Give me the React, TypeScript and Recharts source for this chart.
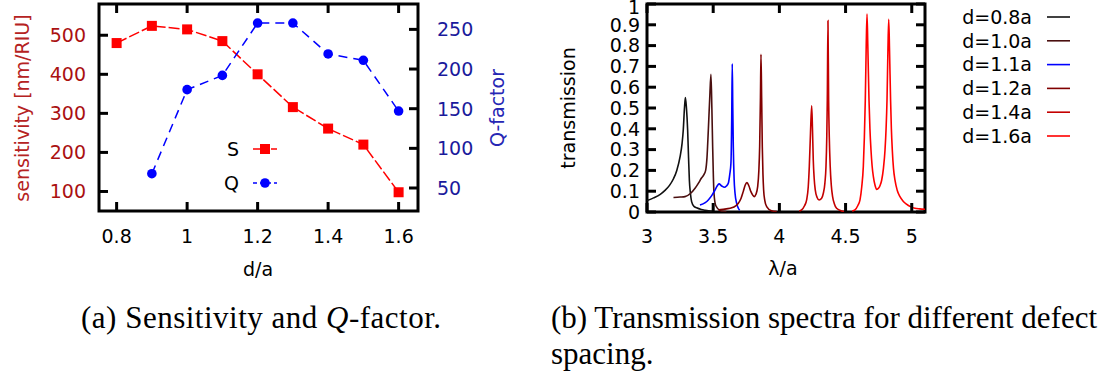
import React from "react";
import { LineChart, Line, XAxis, YAxis, ReferenceArea, Legend, Label } from "recharts";

// ---- (a) sensitivity and Q-factor versus defect spacing ----
const dRatio = [0.8, 0.9, 1.0, 1.1, 1.2, 1.3, 1.4, 1.5, 1.6];
const sensitivity = [480, 524, 515, 485, 400, 316, 261, 220, 98];
const qFactor: (number | null)[] = [null, 68, 174, 192, 258, 258, 219, 211, 147];
const dTicks = [0.8, 1.0, 1.2, 1.4, 1.6];
const sTicks = [100, 200, 300, 400, 500];
const qTicks = [50, 100, 150, 200, 250];
const leftSeriesOrder = ["S", "Q"];

// ---- (b) transmission spectra, [lambda/a, T] ----
const spec08: [number, number][] = [
  [3.0, 0.055], [3.05, 0.068], [3.1, 0.085], [3.136, 0.104], [3.17, 0.128], [3.2, 0.16],
  [3.225, 0.2], [3.25, 0.266], [3.265, 0.33], [3.274, 0.394], [3.283, 0.5], [3.29, 0.55],
  [3.298, 0.5], [3.307, 0.394], [3.314, 0.26], [3.32, 0.154], [3.328, 0.09], [3.337, 0.05],
  [3.355, 0.027], [3.375, 0.02], [3.41, 0.012], [3.44, 0.008], [3.5, 0.003],
];
const spec10: [number, number][] = [
  [3.2, 0.07], [3.25, 0.072], [3.287, 0.074], [3.33, 0.09], [3.363, 0.114], [3.39, 0.14],
  [3.41, 0.162], [3.43, 0.18], [3.443, 0.2], [3.453, 0.26], [3.463, 0.39], [3.474, 0.55],
  [3.483, 0.662], [3.49, 0.5], [3.496, 0.314], [3.501, 0.18], [3.506, 0.09], [3.52, 0.03],
  [3.56, 0.005], [3.6, 0.002],
];
const spec11: [number, number][] = [
  [3.4, 0.034], [3.44, 0.045], [3.463, 0.058], [3.49, 0.08], [3.514, 0.106], [3.53, 0.125],
  [3.544, 0.135], [3.565, 0.125], [3.584, 0.119], [3.6, 0.125], [3.614, 0.138], [3.625, 0.18],
  [3.634, 0.234], [3.64, 0.45], [3.644, 0.712], [3.648, 0.5], [3.652, 0.314], [3.658, 0.16],
  [3.665, 0.09], [3.678, 0.04], [3.69, 0.018], [3.7, 0.008],
];
const spec12: [number, number][] = [
  [3.54, 0.01], [3.6, 0.015], [3.64, 0.02], [3.67, 0.03], [3.69, 0.042], [3.71, 0.065],
  [3.727, 0.098], [3.742, 0.13], [3.755, 0.141], [3.77, 0.125], [3.785, 0.098], [3.8, 0.08],
  [3.81, 0.074], [3.823, 0.085], [3.836, 0.122], [3.845, 0.2], [3.851, 0.314], [3.857, 0.55],
  [3.861, 0.758], [3.866, 0.55], [3.871, 0.314], [3.876, 0.18], [3.881, 0.106], [3.89, 0.055],
  [3.904, 0.026], [3.94, 0.006], [3.98, 0.002],
];
const spec14: [number, number][] = [
  [4.15, 0.005], [4.168, 0.01], [4.19, 0.03], [4.206, 0.058], [4.218, 0.12], [4.226, 0.218],
  [4.235, 0.38], [4.244, 0.51], [4.25, 0.4], [4.256, 0.25], [4.263, 0.16], [4.271, 0.106],
  [4.285, 0.07], [4.3, 0.058], [4.318, 0.065], [4.332, 0.09], [4.344, 0.14], [4.352, 0.218],
  [4.358, 0.36], [4.362, 0.538], [4.367, 0.92], [4.372, 0.538], [4.377, 0.36], [4.384, 0.218],
  [4.392, 0.13], [4.402, 0.074], [4.415, 0.04], [4.432, 0.018], [4.47, 0.005], [4.5, 0.002],
];
const spec16: [number, number][] = [
  [4.55, 0.005], [4.571, 0.01], [4.592, 0.03], [4.609, 0.058], [4.622, 0.12], [4.634, 0.218],
  [4.642, 0.36], [4.649, 0.538], [4.656, 0.8], [4.662, 0.952], [4.668, 0.8], [4.677, 0.538],
  [4.684, 0.4], [4.692, 0.298], [4.7, 0.225], [4.71, 0.17], [4.722, 0.13], [4.735, 0.109],
  [4.75, 0.115], [4.762, 0.13], [4.773, 0.154], [4.786, 0.21], [4.798, 0.298], [4.806, 0.4],
  [4.813, 0.538], [4.82, 0.78], [4.826, 0.926], [4.832, 0.78], [4.84, 0.538], [4.846, 0.4],
  [4.853, 0.298], [4.862, 0.21], [4.873, 0.154], [4.89, 0.105], [4.911, 0.074], [4.935, 0.052],
  [4.96, 0.038], [4.99, 0.026], [5.024, 0.018], [5.06, 0.015], [5.1, 0.013],
];
const spacingLabels = ["d=0.8a", "d=1.0a", "d=1.1a", "d=1.2a", "d=1.4a", "d=1.6a"];
const spacingColors = ["#111111", "#4a0f0f", "#0000ff", "#800000", "#c40000", "#ff0000"];
const spectra = [spec08, spec10, spec11, spec12, spec14, spec16];
const lambdaTicks = [3, 3.5, 4, 4.5, 5];
const tTicks = [0, 0.1, 0.2, 0.3, 0.4, 0.5, 0.6, 0.7, 0.8, 0.9, 1];

const SANS = "DejaVu Sans";
const FS = 19;
const FRAME = "#000";

const leftRows = dRatio.map((d, i) => ({ d, S: sensitivity[i], Q: qFactor[i] }));

// plot frames (pixel rectangles of the two panels, in each chart's own coordinates)
const LF = { left: 99, right: 418, top: 4, bottom: 211 };
const RF = { left: 107, right: 385, top: 4, bottom: 212 };
const TICK_LEN = 9;

const fmt = (v: number) => String(v);

function makeXTick(frame: typeof LF, textY: number) {
  return (p: any) => {
    const x = p.x;
    return (
      <g>
        <line x1={x} x2={x} y1={frame.bottom} y2={frame.bottom - TICK_LEN} stroke={FRAME} strokeWidth={3} />
        <line x1={x} x2={x} y1={frame.top} y2={frame.top + TICK_LEN} stroke={FRAME} strokeWidth={3} />
        <text x={x} y={textY} dy="0.36em" textAnchor="middle" fontFamily={SANS} fontSize={FS} fill="#000">
          {fmt(p.payload.value)}
        </text>
      </g>
    );
  };
}

function makeYTick(frame: typeof LF, side: "left" | "right", textX: number, color: string, both: boolean) {
  return (p: any) => {
    const y = p.y;
    const lines = [];
    if (side === "left" || both)
      lines.push(<line key="l" x1={frame.left} x2={frame.left + TICK_LEN} y1={y} y2={y} stroke={FRAME} strokeWidth={3} />);
    if (side === "right" || both)
      lines.push(<line key="r" x1={frame.right} x2={frame.right - TICK_LEN} y1={y} y2={y} stroke={FRAME} strokeWidth={3} />);
    // keep the topmost label's glyphs inside the drawing area
    const ty = Math.max(y, 7);
    return (
      <g>
        {lines}
        <text x={textX} y={ty} dy="0.36em" textAnchor={side === "left" ? "end" : "start"} fontFamily={SANS} fontSize={FS} fill={color}>
          {fmt(p.payload.value)}
        </text>
      </g>
    );
  };
}

const SquareDot = (p: any) => {
  if (p.cy == null || p.value == null) return <g key={p.index} />;
  return <rect key={p.index} x={p.cx - 5} y={p.cy - 5} width={10} height={10} fill="#ff0000" />;
};
const RoundDot = (p: any) => {
  if (p.cy == null || p.value == null) return <g key={p.index} />;
  return <circle key={p.index} cx={p.cx} cy={p.cy} r={4.8} fill="#0000ff" />;
};

const LeftLegend = (props: any) => {
  const items = [...(props.payload || [])].sort(
    (a: any, b: any) => leftSeriesOrder.indexOf(a.value) - leftSeriesOrder.indexOf(b.value)
  );
  return (
    <svg width={100} height={70} style={{ overflow: "visible" }}>
      {items.map((it: any, i: number) => {
        const y = 14 + i * 34;
        const isS = it.value === "S";
        return (
          <g key={it.value}>
            <text x={39} y={y} dy="0.36em" textAnchor="end" fontFamily={SANS} fontSize={FS} fill="#000">{it.value}</text>
            <line x1={53} x2={77} y1={y} y2={y} stroke={it.color} strokeWidth={1.5} strokeDasharray={isS ? "7 2" : "4 3"} />
            {isS ? <rect x={60} y={y - 5} width={10} height={10} fill={it.color} /> : <circle cx={65} cy={y} r={4.8} fill={it.color} />}
          </g>
        );
      })}
    </svg>
  );
};

const RightLegend = (props: any) => {
  const items = props.payload || [];
  return (
    <svg width={200} height={150} style={{ overflow: "visible" }}>
      {items.map((it: any, i: number) => {
        const y = 12 + i * 23.8;
        return (
          <g key={it.value}>
            <text x={100} y={y} dy="0.36em" textAnchor="end" fontFamily={SANS} fontSize={FS} fill="#000">{it.value}</text>
            <line x1={115} x2={138} y1={y} y2={y} stroke={it.color} strokeWidth={1.6} />
          </g>
        );
      })}
    </svg>
  );
};

export default function App() {
  return (
    <div style={{ position: "absolute", left: 0, top: 0, width: 1107, height: 374, background: "#fff", overflow: "hidden" }}>
      <div style={{ position: "absolute", left: 0, top: 0 }}>
        <LineChart width={520} height={290} data={leftRows} margin={{ top: 4, right: 0, bottom: 9, left: 0 }}>
          <XAxis dataKey="d" type="number" domain={[0.75, 1.655]} ticks={dTicks} interval={0} allowDataOverflow
            height={70} axisLine={false} tickLine={false} tick={makeXTick(LF, 236)}>
            <Label content={() => (
              <text x={258} y={269} dy="0.36em" textAnchor="middle" fontFamily={SANS} fontSize={FS} fill="#000">d/a</text>
            )} />
          </XAxis>
          <YAxis yAxisId="S" domain={[50, 580]} ticks={sTicks} interval={0} allowDataOverflow width={99}
            axisLine={false} tickLine={false} tick={makeYTick(LF, "left", 86, "#aa1111", false)}>
            <Label content={() => (
              <text x={22} y={108} dy="0.36em" transform="rotate(-90 22 108)" textAnchor="middle" fontFamily={SANS} fontSize={FS} fill="#b52222">
                sensitivity [nm/RIU]
              </text>
            )} />
          </YAxis>
          <YAxis yAxisId="Q" orientation="right" domain={[21, 282]} ticks={qTicks} interval={0} allowDataOverflow width={102}
            axisLine={false} tickLine={false} tick={makeYTick(LF, "right", 437, "#1a1a9c", false)}>
            <Label content={() => (
              <text x={497} y={108} dy="0.36em" transform="rotate(-90 497 108)" textAnchor="middle" fontFamily={SANS} fontSize={FS} fill="#2626b4">
                Q-factor
              </text>
            )} />
          </YAxis>
          <ReferenceArea yAxisId="S" x1={0.75} x2={1.655} y1={50} y2={580} fill="none" stroke={FRAME} strokeWidth={3} ifOverflow="visible" />
          <Line yAxisId="S" dataKey="S" name="S" stroke="#ff0000" strokeWidth={1.5} strokeDasharray="11 3"
            dot={SquareDot} activeDot={false} isAnimationActive={false} />
          <Line yAxisId="Q" dataKey="Q" name="Q" stroke="#0000ff" strokeWidth={1.5} strokeDasharray="9 6"
            dot={RoundDot} activeDot={false} isAnimationActive={false} />
          <Legend layout="horizontal" verticalAlign="middle" align="center" content={LeftLegend}
            wrapperStyle={{ left: 200, top: 135, width: 100, height: 70 }} />
        </LineChart>
      </div>

      <div style={{ position: "absolute", left: 540, top: 0 }}>
        <LineChart width={567} height={290} margin={{ top: 4, right: 182, bottom: 8, left: 0 }}>
          <XAxis dataKey="x" type="number" domain={[3, 5.1]} ticks={lambdaTicks} interval={0} allowDataOverflow
            height={70} axisLine={false} tickLine={false} tick={makeXTick(RF, 236)}>
            <Label content={() => (
              <text x={243} y={268} dy="0.36em" textAnchor="middle" fontFamily={SANS} fontSize={FS} fill="#000">λ/a</text>
            )} />
          </XAxis>
          <YAxis type="number" domain={[0, 1]} ticks={tTicks} interval={0} allowDataOverflow width={107}
            axisLine={false} tickLine={false} tick={makeYTick(RF, "left", 100, "#000", true)}>
            <Label content={() => (
              <text x={28} y={108} dy="0.36em" transform="rotate(-90 28 108)" textAnchor="middle" fontFamily={SANS} fontSize={FS} fill="#000">
                transmission
              </text>
            )} />
          </YAxis>
          <ReferenceArea x1={3} x2={5.1} y1={0} y2={1} fill="none" stroke={FRAME} strokeWidth={3} ifOverflow="visible" />
          {spectra.map((s, i) => (
            <Line key={spacingLabels[i]} name={spacingLabels[i]} data={s.map(([x, t]) => ({ x, t }))} dataKey="t"
              type="monotone" stroke={spacingColors[i]} strokeWidth={1.6} dot={false} activeDot={false} isAnimationActive={false} />
          ))}
          <Legend layout="horizontal" verticalAlign="middle" align="center" content={RightLegend}
            wrapperStyle={{ left: 392, top: 5, width: 200, height: 150 }} />
        </LineChart>
      </div>

      <svg width={1107} height={374} style={{ position: "absolute", left: 0, top: 0, pointerEvents: "none" }}>
        <g fontFamily="Liberation Serif" fontSize={31} fill="#000">
          <text x={81} y={328} letterSpacing={0.5}>
            (a) Sensitivity and <tspan fontStyle="italic">Q</tspan>-factor.
          </text>
          <text x={551} y={328}>(b) Transmission spectra for different defect</text>
          <text x={551} y={364}>spacing.</text>
        </g>
      </svg>
    </div>
  );
}
